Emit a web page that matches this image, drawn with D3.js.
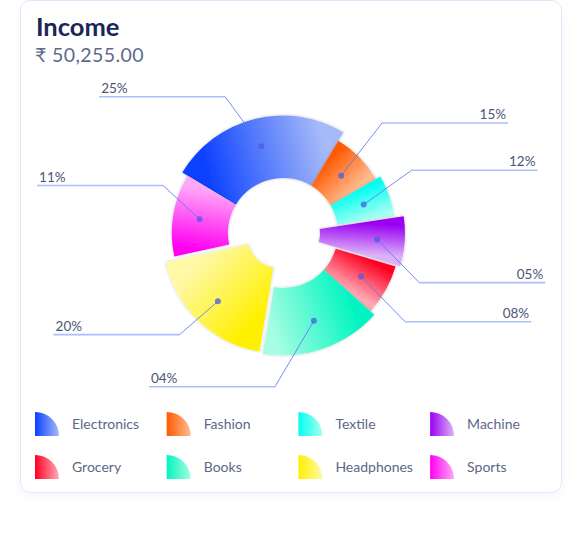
<!DOCTYPE html>
<html>
<head>
<meta charset="utf-8">
<script src="https://cdn.jsdelivr.net/npm/d3@7"></script>
<style>
  body { margin: 0; background: #fff; }
  svg { display: block; font-family: Lato, 'Open Sans', sans-serif; }
</style>
</head>
<body>
<div id="chart"></div>
<script>
// data
const categories = ['Electronics', 'Fashion', 'Textile', 'Machine', 'Grocery', 'Books', 'Headphones', 'Sports']
const shares = [25, 8, 6, 7, 7, 16, 19, 12]          // angular share of each slice
const radiusValues = [94, 86, 90, 92, 94, 98, 92, 89] // radial value of each slice
const percentLabels = ['25%', '15%', '12%', '05%', '08%', '04%', '20%', '11%']
const pulledOut = ['Machine', 'Headphones']

const darkColors = ['#0a40ff', '#ff5a00', '#00fff0', '#9a00f2', '#ff0022', '#00f5c0', '#fff000', '#ff00f0']
const lightColors = ['#a6baf8', '#ffbb90', '#a8fff2', '#dcb2f7', '#ffabb6', '#a6fde2', '#fff9a6', '#ffa8f8']

// label anchors (leader line elbows), polar: degrees / px from centre
const labelAngle = [337, 42, 64, 110, 126, 183, 225.5, 291.6]
const labelRadius = [148, 148, 143, 145, 151, 154, 145, 129]

const width = 582
const height = 534
const cx = 283
const cy = 233
const innerR = 55
const pulledInnerR = 30
const pullDist = 7
const lineLen = 126

const svg = d3
  .select('#chart')
  .append('svg')
  .attr('width', width)
  .attr('height', height)

const defs = svg.append('defs')

const cardShadow = defs.append('filter').attr('id', 'card-shadow')
  .attr('x', '-10%').attr('y', '-10%').attr('width', '120%').attr('height', '120%')
cardShadow.append('feDropShadow')
  .attr('dx', 0).attr('dy', 4).attr('stdDeviation', 5)
  .attr('flood-color', '#8090c0').attr('flood-opacity', 0.08)

const sliceShadow = defs.append('filter').attr('id', 'slice-shadow')
  .attr('x', '-20%').attr('y', '-20%').attr('width', '140%').attr('height', '140%')
sliceShadow.append('feDropShadow')
  .attr('dx', 0).attr('dy', 0).attr('stdDeviation', 1.8)
  .attr('flood-color', '#000').attr('flood-opacity', 0.22)

// card
svg.append('rect')
  .attr('x', 20.5)
  .attr('y', 0.5)
  .attr('width', 541)
  .attr('height', 492)
  .attr('rx', 10)
  .attr('fill', '#fff')
  .attr('stroke', '#e1e6fa')
  .attr('filter', 'url(#card-shadow)')

svg.append('text')
  .text('Income')
  .attr('x', 36)
  .attr('y', 36)
  .attr('font-size', 25.5)
  .attr('font-weight', 700)
  .attr('fill', '#1b2559')

svg.append('text')
  .text('₹ 50,255.00')
  .attr('x', 35)
  .attr('y', 62)
  .attr('font-size', 19.5)
  .attr('letter-spacing', 0.4)
  .attr('fill', '#5d6a8c')

// scales
const rScale = d3.scaleLinear().domain([0, 100]).range([0, 125])
const toRad = d => d * Math.PI / 180

const pie = d3.pie()
  .sort(null)
  .value(d => d.share)
  .startAngle(toRad(-59))
  .endAngle(toRad(301))

const rows = categories.map((c, i) => ({
  name: c,
  share: shares[i],
  radius: radiusValues[i],
  label: percentLabels[i],
  dark: darkColors[i],
  light: lightColors[i],
  pulled: pulledOut.includes(c),
  i: i
}))

const arcs = pie(rows)
arcs.forEach(a => {
  a.inner = a.data.pulled ? pulledInnerR : innerR
  a.outer = rScale(a.data.radius)
  a.mid = (a.startAngle + a.endAngle) / 2
  const off = a.data.pulled ? pullDist : 0
  a.dx = off * Math.sin(a.mid)
  a.dy = -off * Math.cos(a.mid)
})

const arc = d3.arc()
  .innerRadius(d => d.inner)
  .outerRadius(d => d.outer)

// gradients run from the start edge (saturated) to the end edge (light)
arcs.forEach(a => {
  const rm = (a.inner + a.outer) / 2
  const p1 = d3.pointRadial(a.startAngle, rm)
  const p2 = d3.pointRadial(a.endAngle, rm)
  const g = defs.append('linearGradient')
    .attr('id', 'grad-' + a.data.i)
    .attr('gradientUnits', 'userSpaceOnUse')
    .attr('x1', p1[0]).attr('y1', p1[1])
    .attr('x2', p2[0]).attr('y2', p2[1])
  g.append('stop').attr('offset', '0%').attr('stop-color', a.data.dark)
  g.append('stop').attr('offset', '100%').attr('stop-color', a.data.light)

  const lg = defs.append('linearGradient')
    .attr('id', 'legend-grad-' + a.data.i)
    .attr('x1', 0).attr('y1', 0).attr('x2', 1).attr('y2', 0)
  lg.append('stop').attr('offset', '0%').attr('stop-color', a.data.dark)
  lg.append('stop').attr('offset', '100%').attr('stop-color', a.data.light)
})

const chart = svg.append('g')
  .attr('transform', 'translate(' + cx + ',' + cy + ')')

// pulled slices drawn last so they sit on top
const drawOrder = arcs.slice().sort((a, b) => a.data.pulled - b.data.pulled)

chart.selectAll('.slice')
  .data(drawOrder)
  .enter()
  .append('path')
  .attr('class', 'slice')
  .attr('transform', d => 'translate(' + d.dx + ',' + d.dy + ')')
  .attr('d', arc)
  .attr('fill', d => 'url(#grad-' + d.data.i + ')')
  .attr('filter', 'url(#slice-shadow)')

// leader lines
arcs.forEach(a => {
  const dot = d3.pointRadial(a.mid, a.outer * 0.76)
  dot[0] += a.dx
  dot[1] += a.dy
  const elbow = d3.pointRadial(toRad(labelAngle[a.data.i]), labelRadius[a.data.i])
  const right = elbow[0] > 0
  const endX = right ? elbow[0] + lineLen : elbow[0] - lineLen

  chart.append('line')
    .attr('x1', elbow[0]).attr('y1', elbow[1])
    .attr('x2', endX).attr('y2', elbow[1])
    .attr('stroke', '#aebdfb')
    .attr('stroke-width', 1.6)

  chart.append('line')
    .attr('x1', dot[0]).attr('y1', dot[1])
    .attr('x2', elbow[0]).attr('y2', elbow[1])
    .attr('stroke', '#5f78f2')
    .attr('stroke-opacity', 0.85)
    .attr('stroke-width', 1)

  chart.append('circle')
    .attr('cx', dot[0])
    .attr('cy', dot[1])
    .attr('r', 3)
    .attr('fill', '#4a5de0')
    .attr('fill-opacity', 0.75)

  chart.append('text')
    .text(a.data.label)
    .attr('x', right ? endX - 2 : endX + 2)
    .attr('y', elbow[1] - 4)
    .attr('text-anchor', right ? 'end' : 'start')
    .attr('font-size', 13.5)
    .attr('fill', '#4b5577')
})

// legend
const legend = svg.append('g')
  .attr('transform', 'translate(35,412)')

const items = legend.selectAll('.item')
  .data(rows)
  .enter()
  .append('g')
  .attr('class', 'item')
  .attr('transform', d => 'translate(' + (d.i % 4) * 131.7 + ',' + Math.floor(d.i / 4) * 43 + ')')

items.append('path')
  .attr('d', 'M0,0 A24,24 0 0 1 24,24 L0,24 Z')
  .attr('fill', d => 'url(#legend-grad-' + d.i + ')')

items.append('text')
  .text(d => d.name)
  .attr('x', 37)
  .attr('y', 17)
  .attr('font-size', 14)
  .attr('fill', '#5d6788')
</script>
</body>
</html>
